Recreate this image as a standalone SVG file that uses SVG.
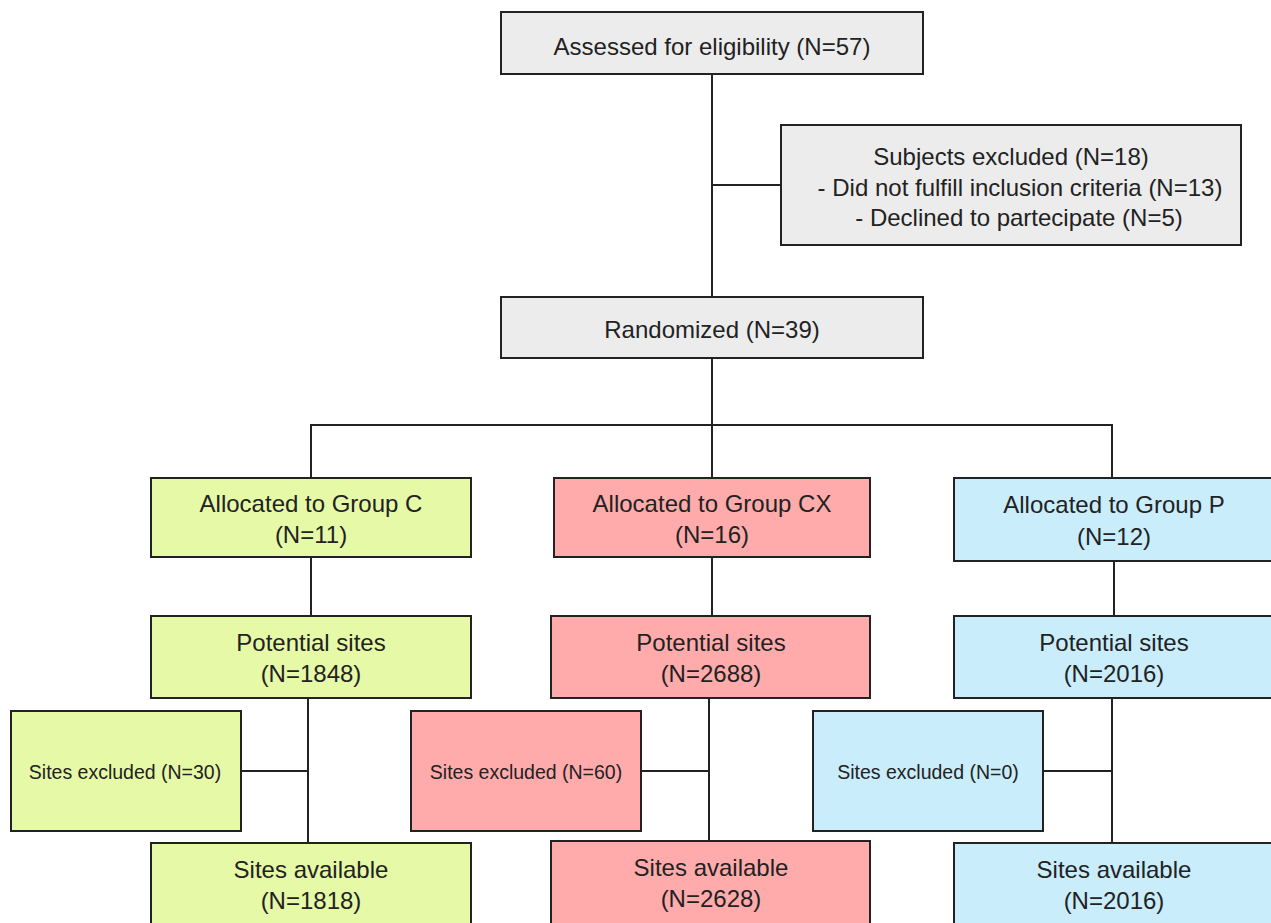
<svg xmlns="http://www.w3.org/2000/svg" width="1271" height="923" viewBox="0 0 1271 923">
<style>
rect{stroke:#222;stroke-width:2}
.g{fill:#ececec}.c{fill:#e6f9a7}.x{fill:#ffabab}.p{fill:#c9edfb}
text{font-family:"Liberation Sans",Arial,sans-serif;font-size:24px;fill:#222;text-anchor:middle}
text.s{font-size:19.5px}
#connectors line{stroke:#222;stroke-width:2}
</style>
<rect width="1271" height="923" fill="#fff" style="stroke:none"/>
<g id="connectors">
<line x1="712" y1="74" x2="712" y2="297"/>
<line x1="712" y1="185" x2="781" y2="185"/>
<line x1="712" y1="358" x2="712" y2="425"/>
<line x1="310" y1="425" x2="1113" y2="425"/>
<line x1="311" y1="424" x2="311" y2="478"/>
<line x1="712" y1="424" x2="712" y2="478"/>
<line x1="1112" y1="424" x2="1112" y2="478"/>
<line x1="311" y1="557" x2="311" y2="616"/>
<line x1="712" y1="557" x2="712" y2="616"/>
<line x1="1114" y1="561" x2="1114" y2="616"/>
<line x1="308" y1="698" x2="308" y2="843"/>
<line x1="241" y1="771" x2="308" y2="771"/>
<line x1="709" y1="698" x2="709" y2="841"/>
<line x1="641" y1="771" x2="709" y2="771"/>
<line x1="1112" y1="698" x2="1112" y2="843"/>
<line x1="1043" y1="771" x2="1112" y2="771"/>
</g>
<g id="assessed"><rect class="g" x="501" y="12" width="422" height="62"/><text x="712" y="55">Assessed for eligibility (N=57)</text></g>
<g id="excluded"><rect class="g" x="781" y="125" width="460" height="120"/>
<text x="1011" y="165">Subjects excluded (N=18)</text>
<text x="1020" y="196">- Did not fulfill inclusion criteria (N=13)</text>
<text x="1019" y="226">- Declined to partecipate (N=5)</text></g>
<g id="randomized"><rect class="g" x="501" y="297" width="422" height="61"/><text x="712" y="338">Randomized (N=39)</text></g>
<g id="groupC"><rect class="c" x="151" y="478" width="320" height="79"/><text x="311" y="512">Allocated to Group C</text><text x="311" y="543">(N=11)</text></g>
<g id="groupCX"><rect class="x" x="554" y="478" width="316" height="79"/><text x="712" y="512">Allocated to Group CX</text><text x="712" y="543">(N=16)</text></g>
<g id="groupP"><rect class="p" x="954" y="478" width="318" height="83"/><text x="1114" y="513">Allocated to Group P</text><text x="1114" y="545">(N=12)</text></g>
<g id="potC"><rect class="c" x="151" y="616" width="320" height="82"/><text x="311" y="651">Potential sites</text><text x="311" y="682">(N=1848)</text></g>
<g id="potCX"><rect class="x" x="551" y="616" width="319" height="82"/><text x="711" y="651">Potential sites</text><text x="711" y="682">(N=2688)</text></g>
<g id="potP"><rect class="p" x="954" y="616" width="318" height="82"/><text x="1114" y="651">Potential sites</text><text x="1114" y="682">(N=2016)</text></g>
<g id="exC"><rect class="c" x="11" y="711" width="230" height="120"/><text class="s" x="125" y="779">Sites excluded (N=30)</text></g>
<g id="exCX"><rect class="x" x="411" y="711" width="230" height="120"/><text class="s" x="526" y="779">Sites excluded (N=60)</text></g>
<g id="exP"><rect class="p" x="813" y="711" width="230" height="120"/><text class="s" x="928" y="779">Sites excluded (N=0)</text></g>
<g id="avC"><rect class="c" x="151" y="843" width="320" height="82"/><text x="311" y="878">Sites available</text><text x="311" y="909">(N=1818)</text></g>
<g id="avCX"><rect class="x" x="551" y="841" width="319" height="84"/><text x="711" y="876">Sites available</text><text x="711" y="907">(N=2628)</text></g>
<g id="avP"><rect class="p" x="954" y="843" width="318" height="82"/><text x="1114" y="878">Sites available</text><text x="1114" y="909">(N=2016)</text></g>
</svg>
